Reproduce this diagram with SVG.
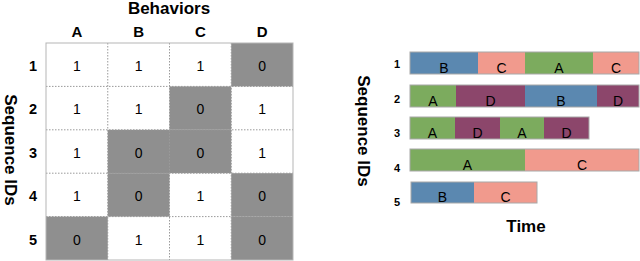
<svg xmlns="http://www.w3.org/2000/svg" width="640" height="261" viewBox="0 0 640 261">
<style>
.t{font-family:"Liberation Sans",Arial,sans-serif;fill:#000}
.hd{font-size:17px;font-weight:bold}
.col{font-size:15px;font-weight:bold;text-anchor:middle}
.rn{font-size:14.5px;font-weight:bold;text-anchor:middle}
.cv{font-size:14px;text-anchor:middle}
.rl{font-size:11px;font-weight:bold;text-anchor:middle}
.bl{font-size:14px;text-anchor:middle}
.w{fill:#fff}
.g{fill:#8f8f8f}
.dl{stroke:#9a9a9a;stroke-width:1;stroke-dasharray:1.5 1.5;fill:none}
.ob{fill:none;stroke:#b5b5b5;stroke-width:1}
.cb{fill:#5b88b0}
.cc{fill:#f19a8d}
.ca{fill:#7cab5e}
.cd{fill:#8c466b}
.bo{fill:none;stroke:#a8a8a8;stroke-width:1}
</style>
<rect width="640" height="261" fill="#fff"/>
<g id="matrix">
<text class="t hd" x="169" y="14" text-anchor="middle">Behaviors</text>
<text class="t col" x="77" y="36.5">A</text>
<text class="t col" x="138.6" y="36.5">B</text>
<text class="t col" x="200.4" y="36.5">C</text>
<text class="t col" x="262.1" y="36.5">D</text>
<text class="t hd" transform="translate(11,150) rotate(90)" x="0" y="6" text-anchor="middle">Sequence IDs</text>
<g id="cells">
<rect class="w" x="46" y="43" width="247" height="217"/>
<rect class="g" x="231.25" y="43" width="61.75" height="43.4"/>
<rect class="g" x="169.5" y="86.4" width="61.75" height="43.4"/>
<rect class="g" x="107.75" y="129.8" width="123.5" height="43.4"/>
<rect class="g" x="107.75" y="173.2" width="61.75" height="43.4"/>
<rect class="g" x="231.25" y="173.2" width="61.75" height="43.4"/>
<rect class="g" x="46" y="216.6" width="61.75" height="43.4"/>
<rect class="g" x="231.25" y="216.6" width="61.75" height="43.4"/>
<path class="dl" d="M107.75 43V260M169.5 43V260M231.25 43V260M46 86.4H293M46 129.8H293M46 173.2H293M46 216.6H293"/>
<rect class="ob" x="46" y="43" width="247" height="217"/>
</g>
<g id="row-labels">
<text class="t rn" x="33" y="71">1</text>
<text class="t rn" x="33" y="114.4">2</text>
<text class="t rn" x="33" y="157.8">3</text>
<text class="t rn" x="33" y="201.2">4</text>
<text class="t rn" x="33" y="244.6">5</text>
</g>
<g id="values">
<text class="t cv" x="76.9" y="71">1</text><text class="t cv" x="138.6" y="71">1</text><text class="t cv" x="200.4" y="71">1</text><text class="t cv" x="262.1" y="71">0</text>
<text class="t cv" x="76.9" y="114.4">1</text><text class="t cv" x="138.6" y="114.4">1</text><text class="t cv" x="200.4" y="114.4">0</text><text class="t cv" x="262.1" y="114.4">1</text>
<text class="t cv" x="76.9" y="157.8">1</text><text class="t cv" x="138.6" y="157.8">0</text><text class="t cv" x="200.4" y="157.8">0</text><text class="t cv" x="262.1" y="157.8">1</text>
<text class="t cv" x="76.9" y="201.2">1</text><text class="t cv" x="138.6" y="201.2">0</text><text class="t cv" x="200.4" y="201.2">1</text><text class="t cv" x="262.1" y="201.2">0</text>
<text class="t cv" x="76.9" y="244.6">0</text><text class="t cv" x="138.6" y="244.6">1</text><text class="t cv" x="200.4" y="244.6">1</text><text class="t cv" x="262.1" y="244.6">0</text>
</g>
</g>
<g id="timeline">
<text class="t hd" transform="translate(364,131) rotate(90)" x="0" y="6" text-anchor="middle">Sequence IDs</text>
<text class="t hd" x="526" y="232" text-anchor="middle">Time</text>
<g id="seq1">
<text class="t rl" x="397" y="68">1</text>
<rect class="cb" x="410" y="52" width="68" height="22"/>
<rect class="cc" x="478" y="52" width="47" height="22"/>
<rect class="ca" x="525" y="52" width="68" height="22"/>
<rect class="cc" x="593" y="52" width="46" height="22"/>
<rect class="bo" x="410" y="52" width="229" height="22"/>
<text class="t bl" x="444" y="72.5">B</text><text class="t bl" x="501.5" y="72.5">C</text><text class="t bl" x="559" y="72.5">A</text><text class="t bl" x="616" y="72.5">C</text>
</g>
<g id="seq2">
<text class="t rl" x="397" y="103">2</text>
<rect class="ca" x="410" y="85" width="46" height="22"/>
<rect class="cd" x="456" y="85" width="69" height="22"/>
<rect class="cb" x="525" y="85" width="72" height="22"/>
<rect class="cd" x="597" y="85" width="42" height="22"/>
<rect class="bo" x="410" y="85" width="229" height="22"/>
<text class="t bl" x="433" y="105.5">A</text><text class="t bl" x="490.5" y="105.5">D</text><text class="t bl" x="561" y="105.5">B</text><text class="t bl" x="618" y="105.5">D</text>
</g>
<g id="seq3">
<text class="t rl" x="397" y="137">3</text>
<rect class="ca" x="410" y="117" width="45" height="22"/>
<rect class="cd" x="455" y="117" width="45" height="22"/>
<rect class="ca" x="500" y="117" width="44" height="22"/>
<rect class="cd" x="544" y="117" width="45" height="22"/>
<rect class="bo" x="410" y="117" width="179" height="22"/>
<text class="t bl" x="432.5" y="137.5">A</text><text class="t bl" x="477.5" y="137.5">D</text><text class="t bl" x="522" y="137.5">A</text><text class="t bl" x="566.5" y="137.5">D</text>
</g>
<g id="seq4">
<text class="t rl" x="397" y="171.5">4</text>
<rect class="ca" x="410" y="149" width="115" height="22"/>
<rect class="cc" x="525" y="149" width="114" height="22"/>
<rect class="bo" x="410" y="149" width="229" height="22"/>
<text class="t bl" x="467.5" y="169.5">A</text><text class="t bl" x="582" y="169.5">C</text>
</g>
<g id="seq5">
<text class="t rl" x="397" y="205.5">5</text>
<rect class="cb" x="411" y="182" width="63" height="21"/>
<rect class="cc" x="474" y="182" width="63" height="21"/>
<rect class="bo" x="411" y="182" width="126" height="21"/>
<text class="t bl" x="442.5" y="201.5">B</text><text class="t bl" x="505.5" y="201.5">C</text>
</g>
</g>
</svg>
